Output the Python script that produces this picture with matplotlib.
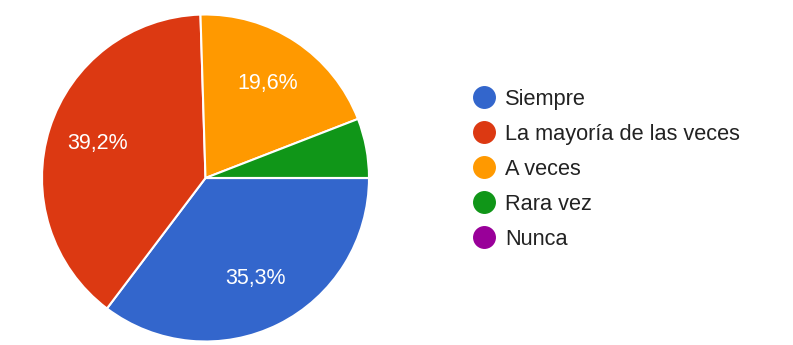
import matplotlib
matplotlib.use("Agg")
import matplotlib.pyplot as plt
from matplotlib.lines import Line2D

categories = ["Siempre", "La mayoría de las veces", "A veces", "Rara vez", "Nunca"]
counts = [18, 20, 10, 3, 0]
colors = ["#3366cc", "#dc3912", "#ff9900", "#109618", "#990099"]

plt.rcParams['font.family'] = ['Liberation Sans', 'DejaVu Sans']

W, H = 793, 345
fig = plt.figure(figsize=(W / 100, H / 100), dpi=100)
cx, cy, r = 205.5, 178, 163.5
ax = fig.add_axes([(cx - r) / W, (H - cy - r) / H, 2 * r / W, 2 * r / H])

def fmt(p):
    return ("%.1f%%" % p).replace(".", ",") if p >= 10 else ""

wedges, texts, autotexts = ax.pie(
    counts, colors=colors, startangle=0, counterclock=False,
    autopct=fmt, pctdistance=0.69,
    wedgeprops=dict(edgecolor="white", linewidth=1.5),
    textprops=dict(color="white", fontsize=15.5),
)
ax.set_xlim(-1, 1)
ax.set_ylim(-1, 1)
ax.set_aspect("auto")

fs = 15.7
handles = [Line2D([0], [0], marker="o", linestyle="none", markersize=15.5,
                  markerfacecolor=c, markeredgecolor=c) for c in colors]
fig.legend(handles, categories, loc="upper left",
           bbox_to_anchor=(474 / W, (H - 89) / H), frameon=False,
           fontsize=fs, labelspacing=0.64, handlelength=0.93,
           handletextpad=0.5, borderpad=0, borderaxespad=0,
           labelcolor="#222222")

fig.savefig("out.png", dpi=100)
